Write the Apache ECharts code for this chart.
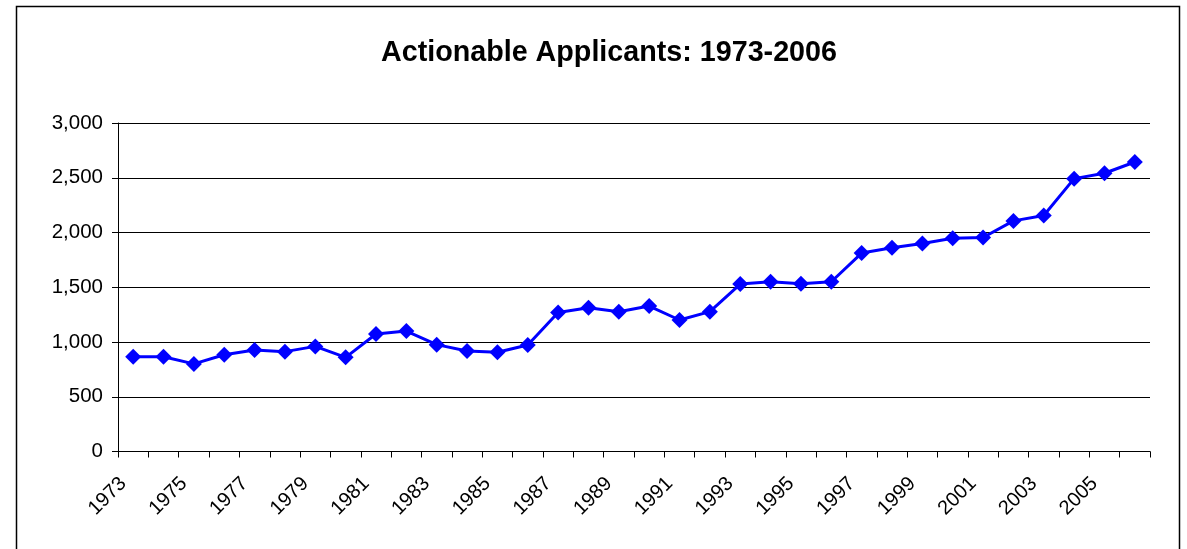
<!DOCTYPE html>
<html>
<head>
<meta charset="utf-8">
<script src="https://cdn.jsdelivr.net/npm/echarts@6/dist/echarts.min.js"></script>
<style>
  html, body { margin: 0; padding: 0; background: #fff; }
  #chart { width: 1187px; height: 549px; }
</style>
</head>
<body>
<div id="chart"></div>
<script>
var years = [];
for (var y = 1973; y <= 2006; y++) years.push(String(y));

var applicants = [
  866, 866, 800, 884, 927, 912, 960, 860, 1073, 1100,
  976, 918, 906, 973, 1270, 1313, 1277, 1328, 1201, 1277,
  1529, 1550, 1532, 1550, 1812, 1860, 1900, 1948, 1954, 2106,
  2155, 2492, 2541, 2644
];

var chart = echarts.init(document.getElementById('chart'));

var option = {
  backgroundColor: '#fff',
  animation: false,
  title: {
    text: 'Actionable Applicants: 1973-2006',
    left: 376,
    top: 34,
    textStyle: {
      fontFamily: 'Liberation Sans, Arial, sans-serif',
      fontSize: 28.7,
      fontWeight: 'bold',
      color: '#000'
    }
  },
  graphic: [{
    type: 'rect',
    shape: { x: 16.5, y: 6.5, width: 1163, height: 560 },
    style: { fill: 'none', stroke: '#000', lineWidth: 1.5 },
    silent: true
  }],
  grid: {
    left: 118,
    right: 37,
    top: 123,
    bottom: 97.5
  },
  xAxis: {
    type: 'category',
    data: years,
    boundaryGap: true,
    axisLine: { lineStyle: { color: '#000', width: 1 } },
    axisTick: { show: true, interval: 0, length: 6, lineStyle: { color: '#000' } },
    axisLabel: {
      interval: 1,
      rotate: 45,
      margin: 19,
      padding: [0, 14, 0, 0],
      fontFamily: 'Liberation Sans, Arial, sans-serif',
      fontSize: 20,
      color: '#000'
    },
    splitLine: { show: false }
  },
  yAxis: {
    type: 'value',
    min: 0,
    max: 3000,
    interval: 500,
    axisLine: { show: true, lineStyle: { color: '#000', width: 1 } },
    axisTick: { show: true, length: 6, lineStyle: { color: '#000' } },
    axisLabel: {
      margin: 15,
      fontFamily: 'Liberation Sans, Arial, sans-serif',
      fontSize: 20.5,
      color: '#000',
      formatter: function (v) { return v.toLocaleString('en-US'); }
    },
    splitLine: { show: true, lineStyle: { color: '#000', width: 1 } }
  },
  series: [{
    name: 'Actionable Applicants',
    type: 'line',
    data: applicants,
    symbol: 'diamond',
    symbolSize: 16,
    lineStyle: { color: '#0000ff', width: 3 },
    itemStyle: { color: '#0000ff' }
  }]
};

chart.setOption(option);
</script>
</body>
</html>
